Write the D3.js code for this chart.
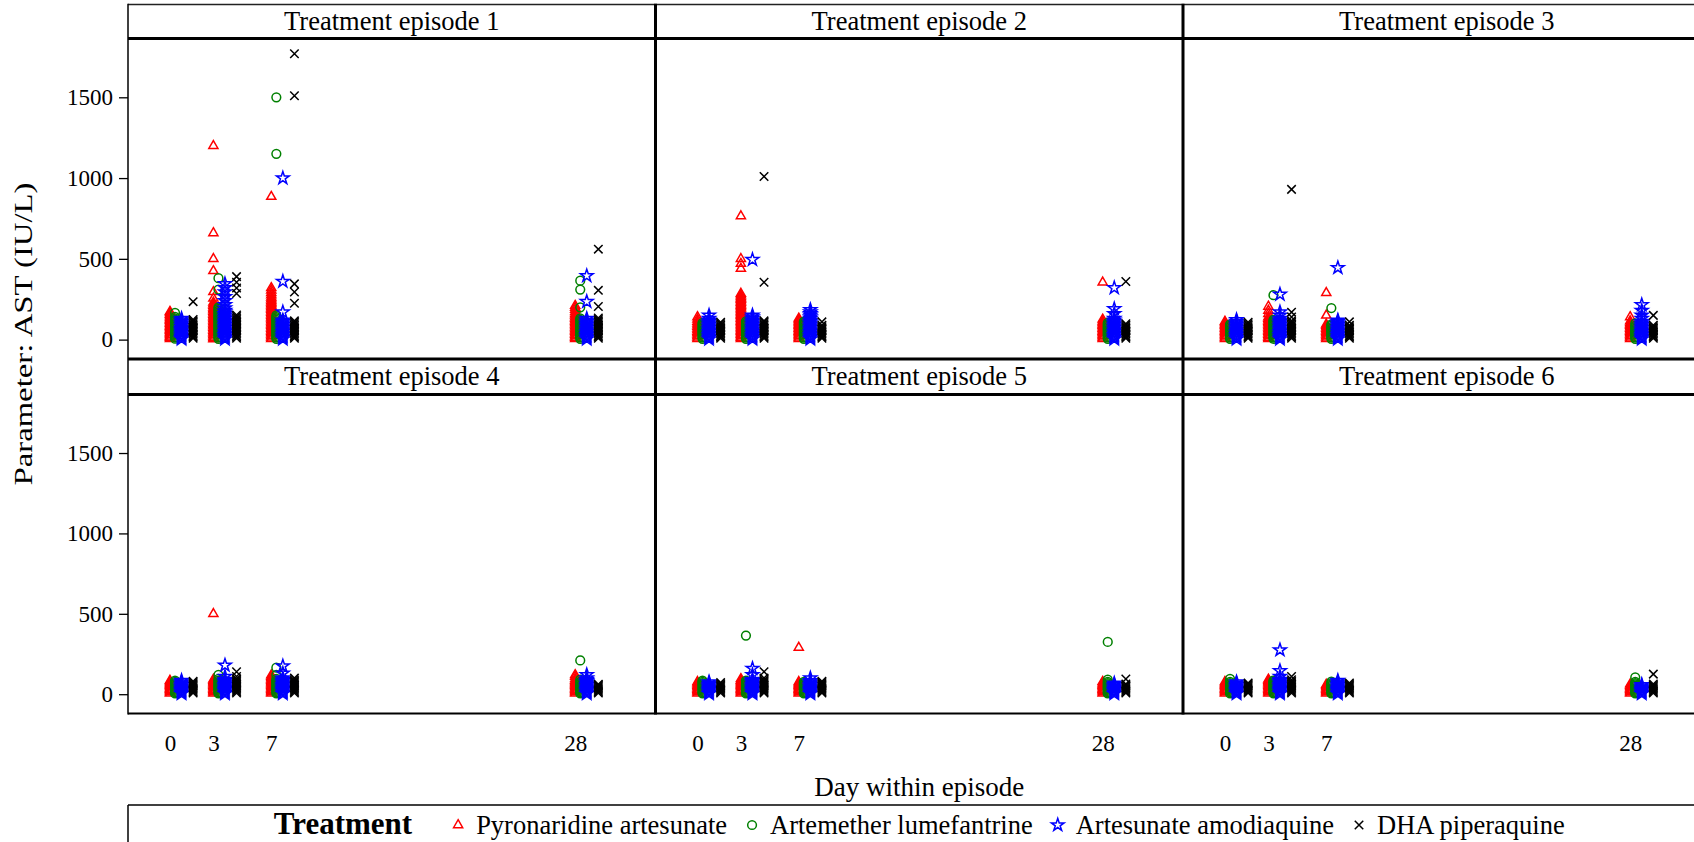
<!DOCTYPE html>
<html>
<head>
<meta charset="utf-8">
<title>AST by day within episode</title>
<script src="https://d3js.org/d3.v7.min.js"></script>
<style>
  body { margin: 0; background: #fff; overflow: hidden; }
  svg text { font-family: "Liberation Serif", "DejaVu Serif", serif; fill: #000; }
</style>
</head>
<body>
<div id="chart"></div>
<script>
// ---- data ----
const episodes = [1, 2, 3, 4, 5, 6];
const dayTicks = [0, 3, 7, 28];
const yTicks = [0, 500, 1000, 1500];
const treatments = ["Pyronaridine artesunate", "Artemether lumefantrine", "Artesunate amodiaquine", "DHA piperaquine"];

// [episode, day, AST values]
const pyronaridine = [
  [1, 0, [4,12,20,30,38,47,55,64,72,81,90,99,108,117,126,135,145,155,165,173]],
  [1, 3, [3,11,20,29,38,47,56,65,74,83,92,101,110,119,128,137,146,155,164,173,182,191,200,210,220,230,255,295,425,500,660,1200]],
  [1, 7, [5,14,23,32,41,50,59,68,77,86,95,104,113,122,131,140,149,158,167,176,185,194,203,212,221,230,240,250,262,275,290,305,320,885]],
  [1, 28, [4,13,22,31,40,49,58,67,76,85,94,103,112,121,130,140,150,160,172,185,198,210]],
  [2, 0, [5,14,23,32,41,50,60,70,80,90,100,112,125,140]],
  [2, 3, [4,13,22,31,40,49,58,67,76,85,94,103,112,121,130,139,148,157,166,175,184,193,202,211,220,229,238,247,256,265,275,285,440,470,500,765]],
  [2, 7, [5,14,23,32,41,50,59,68,77,86,95,104,113,122,131]],
  [2, 28, [5,14,23,32,41,50,59,68,77,86,95,104,113,125,355]],
  [3, 0, [5,14,23,32,41,50,59,68,77,86,95,104,112]],
  [3, 3, [4,13,22,31,40,49,58,67,76,85,94,103,112,121,130,140,160,180,205]],
  [3, 7, [5,14,23,32,41,50,59,68,77,86,95,150,290]],
  [3, 28, [5,14,23,32,41,50,59,68,77,86,95,104,115,140]],
  [4, 0, [5,13,21,29,37,45,53,61,69,77,85]],
  [4, 3, [5,13,21,29,37,45,53,61,69,77,85,92,500]],
  [4, 7, [5,13,21,29,37,45,53,61,69,77,85,93,101,110,118]],
  [4, 28, [5,13,21,29,37,45,53,61,69,77,85,95,110,120]],
  [5, 0, [5,13,21,29,37,45,53,61,69,77]],
  [5, 3, [5,13,21,29,37,45,53,61,69,77,85,95]],
  [5, 7, [5,13,21,29,37,45,53,61,69,77,290]],
  [5, 28, [5,13,21,29,37,45,53,61,69,78]],
  [6, 0, [5,13,21,29,37,45,53,61,69,77]],
  [6, 3, [5,13,21,29,37,45,53,61,69,77,85,92]],
  [6, 7, [5,13,21,29,37,45,53,60]],
  [6, 28, [5,13,21,29,37,45,53,62]]
];

const artemether = [
  [1, 0, [6,15,24,33,42,51,60,69,78,87,96,105,114,123,132,141,165]],
  [1, 3, [5,14,23,32,41,50,59,68,77,86,95,104,113,122,131,140,150,160,170,180,190,200,310,380]],
  [1, 7, [5,14,23,32,41,50,59,68,77,86,95,104,113,122,131,140,150,1150,1500]],
  [1, 28, [5,14,23,32,41,50,59,68,77,86,95,104,113,122,131,200,310,365]],
  [2, 0, [5,14,23,32,41,50,59,68,77,86,95,104]],
  [2, 3, [5,14,23,32,41,50,59,68,77,86,95,104,113]],
  [2, 7, [5,14,23,32,41,50,59,68,77,86,95,104,112]],
  [2, 28, [5,14,23,32,41,50,59,68,77,86,95,104]],
  [3, 0, [5,14,23,32,41,50,59,68,77,86,94]],
  [3, 3, [5,14,23,32,41,50,59,68,77,86,95,104,113,122,275]],
  [3, 7, [5,14,23,32,41,50,59,68,77,86,95,195]],
  [3, 28, [5,14,23,32,41,50,59,68,77,86,100]],
  [4, 0, [5,13,21,29,37,45,53,61,69,77,85]],
  [4, 3, [5,13,21,29,37,45,53,61,69,77,85,95,120]],
  [4, 7, [5,13,21,29,37,45,53,61,69,77,85,95,120,165]],
  [4, 28, [5,13,21,29,37,45,53,61,69,77,90,210]],
  [5, 0, [5,13,21,29,37,45,53,61,69,77,85]],
  [5, 3, [5,13,21,29,37,45,53,61,69,77,85,365]],
  [5, 7, [5,13,21,29,37,45,53,61,69,77]],
  [5, 28, [5,13,21,29,37,45,53,61,69,77,90,325]],
  [6, 0, [5,13,21,29,37,45,53,61,69,77,95]],
  [6, 3, [5,13,21,29,37,45,53,61,69,77,85]],
  [6, 7, [5,13,21,29,37,45,53,61,69,78]],
  [6, 28, [5,13,21,29,37,45,53,61,69,77,105]]
];

const artesunate = [
  [1, 0, [3,11,19,27,35,43,51,59,67,75,85,94,103,112,121,130]],
  [1, 3, [3,12,21,30,39,48,57,66,75,84,93,102,111,120,130,140,150,160,170,180,195,215,240,265,295,320,345]],
  [1, 7, [3,12,21,30,39,48,57,66,75,84,93,102,111,120,170,360,1000]],
  [1, 28, [3,12,21,30,39,48,57,66,75,84,93,102,111,120,130,235,395]],
  [2, 0, [3,12,21,30,39,48,57,66,75,84,93,102,111,120,130,150]],
  [2, 3, [3,12,21,30,39,48,57,66,75,84,93,102,111,120,130,140,150,495]],
  [2, 7, [3,12,21,30,39,48,57,66,75,84,93,102,111,120,130,140,150,160,170,185]],
  [2, 28, [3,12,21,30,39,48,57,66,75,84,93,102,111,120,130,160,190,320]],
  [3, 0, [3,12,21,30,39,48,57,66,75,84,93,102,112,122]],
  [3, 3, [3,12,21,30,39,48,57,66,75,84,93,102,111,120,130,150,170,280]],
  [3, 7, [3,12,21,30,39,48,57,66,75,84,93,102,111,120,445]],
  [3, 28, [3,12,21,30,39,48,57,66,75,84,93,102,111,130,150,180,215]],
  [4, 0, [3,11,19,27,35,43,51,59,67,75,85]],
  [4, 3, [3,11,19,27,35,43,51,59,67,75,83,91,110,180]],
  [4, 7, [3,11,19,27,35,43,51,59,67,75,83,91,100,130,175]],
  [4, 28, [3,11,19,27,35,43,51,59,67,75,83,91,100,120]],
  [5, 0, [3,11,19,27,35,43,51,59,67,75]],
  [5, 3, [3,11,19,27,35,43,51,59,67,75,83,91,120,160]],
  [5, 7, [3,11,19,27,35,43,51,59,67,75,83,100]],
  [5, 28, [3,11,19,27,35,43,51,59,67]],
  [6, 0, [3,11,19,27,35,43,51,59,67,75]],
  [6, 3, [3,11,19,27,35,43,51,59,67,75,83,91,110,145,275]],
  [6, 7, [3,11,19,27,35,43,51,59,67,75,85]],
  [6, 28, [3,11,19,27,35,43,51,59]]
];

const dha = [
  [1, 0, [8,17,26,35,44,53,62,71,80,89,98,107,116,125,235]],
  [1, 3, [8,17,26,35,44,53,62,71,80,89,98,107,116,125,134,143,152,285,320,355,390]],
  [1, 7, [8,17,26,35,44,53,62,71,80,89,98,107,116,225,295,345,1510,1770]],
  [1, 28, [8,17,26,35,44,53,62,71,80,89,98,107,116,125,134,205,305,560]],
  [2, 0, [8,17,26,35,44,53,62,71,80,89,98,107]],
  [2, 3, [8,17,26,35,44,53,62,71,80,89,98,107,116,355,1010]],
  [2, 7, [8,17,26,35,44,53,62,71,80,89,110]],
  [2, 28, [8,17,26,35,44,53,62,71,80,89,98,360]],
  [3, 0, [8,17,26,35,44,53,62,71,80,89,98,107]],
  [3, 3, [8,17,26,35,44,53,62,71,80,89,98,107,116,140,170,930]],
  [3, 7, [8,17,26,35,44,53,62,71,80,89,110]],
  [3, 28, [8,17,26,35,44,53,62,71,80,89,150]],
  [4, 0, [8,16,24,32,40,48,56,64,72,80]],
  [4, 3, [8,16,24,32,40,48,56,64,72,80,88,96,110,140]],
  [4, 7, [8,16,24,32,40,48,56,64,72,80,88,100]],
  [4, 28, [8,16,24,32,40,48,56,62]],
  [5, 0, [8,16,24,32,40,48,56,64,72]],
  [5, 3, [8,16,24,32,40,48,56,64,72,80,88,100,140]],
  [5, 7, [8,16,24,32,40,48,56,64,72,80]],
  [5, 28, [8,16,24,32,40,48,56,64,95]],
  [6, 0, [8,16,24,32,40,48,56,64,70]],
  [6, 3, [8,16,24,32,40,48,56,64,72,80,90,110]],
  [6, 7, [8,16,24,32,40,48,56,64,70]],
  [6, 28, [8,16,24,32,40,48,56,64,125]]
];

const seriesData = [pyronaridine, artemether, artesunate, dha];
const colors = ["#ff0000", "#008000", "#0000ff", "#000000"];
const dayShift = [0, 0.35, 0.8, 1.6];   // cluster offset of each treatment, in days

// ---- layout ----
const W = 1694, H = 842;
const FONT = "Liberation Serif, DejaVu Serif, serif";
const colLeft = [128, 655.5, 1183];
const colW = 527.5;
const rowHeadTop = [4.5, 359];
const rowTop = [38.5, 394.5];
const rowBottom = [359, 713.5];

const svg = d3.select("#chart").append("svg")
    .attr("width", W)
    .attr("height", H);

const timesSymbol = {
  draw(ctx, size) {
    const r = Math.sqrt(size) / 2;
    ctx.moveTo(-r, -r); ctx.lineTo(r, r);
    ctx.moveTo(-r, r); ctx.lineTo(r, -r);
  }
};
const symbols = [
  d3.symbol().type(d3.symbolTriangle).size(36),
  d3.symbol().type(d3.symbolCircle).size(60),
  d3.symbol().type(d3.symbolStar).size(50),
  d3.symbol().type(timesSymbol).size(72)
];
const strokeW = [1.5, 1.5, 1.5, 1.5];

// ---- panels ----
episodes.forEach((ep, i) => {
  const c = i % 3, r = Math.floor(i / 3);
  const x = d3.scaleLinear().domain([-2.9, 33.55]).range([colLeft[c], colLeft[c] + colW]);
  const y = d3.scaleLinear().domain([-120, 1864]).range([rowBottom[r], rowTop[r]]);

  const g = svg.append("g").attr("class", "panel");

  // points
  seriesData.forEach((series, s) => {
    const pts = [];
    series.filter(d => d[0] === ep).forEach(d => {
      d[2].forEach(v => pts.push({day: d[1], v: v}));
    });
    g.selectAll(null)
      .data(pts)
      .enter().append("path")
      .attr("d", symbols[s])
      .attr("transform", d => `translate(${x(d.day + dayShift[s])},${y(d.v)})`)
      .attr("fill", "none")
      .attr("stroke", colors[s])
      .attr("stroke-width", strokeW[s]);
  });

  // header text
  svg.append("text")
    .attr("x", colLeft[c] + colW / 2)
    .attr("y", (rowHeadTop[r] + rowTop[r]) / 2 + 8.5)
    .attr("text-anchor", "middle")
    .style("font-size", "26.5px")
    .text("Treatment episode " + ep);

  // x axis tick labels (bottom row only)
  if (r === 1) {
    const ax = d3.axisBottom(x).tickValues(dayTicks).tickSize(0).tickPadding(21);
    const axg = svg.append("g")
      .attr("transform", `translate(0,${rowBottom[r]})`)
      .call(ax)
      .attr("font-family", FONT)
      .attr("font-size", 23);
    axg.select(".domain").remove();
    axg.selectAll("text").attr("fill", "#000");
  }

  // y axis (left column only)
  if (c === 0) {
    const ay = d3.axisLeft(y).tickValues(yTicks).tickFormat(d3.format("d")).tickSize(9).tickPadding(6);
    const ayg = svg.append("g")
      .attr("transform", `translate(${colLeft[0]},0)`)
      .call(ay)
      .attr("font-family", FONT)
      .attr("font-size", 23);
    ayg.select(".domain").remove();
    ayg.selectAll("line").attr("stroke", "#000").attr("stroke-width", 1.3);
    ayg.selectAll("text").attr("fill", "#000");
  }
});

// ---- frame lines ----
const xEnd = colLeft[2] + colW;
const frame = svg.append("g").attr("stroke", "#000").attr("fill", "none");
frame.append("line").attr("x1", colLeft[0]).attr("x2", W).attr("y1", rowHeadTop[0]).attr("y2", rowHeadTop[0]).attr("stroke-width", 1.5).attr("stroke", "#222");
frame.append("line").attr("x1", colLeft[0]).attr("x2", W).attr("y1", rowTop[0]).attr("y2", rowTop[0]).attr("stroke-width", 3);
frame.append("line").attr("x1", colLeft[0]).attr("x2", W).attr("y1", rowBottom[0]).attr("y2", rowBottom[0]).attr("stroke-width", 3);
frame.append("line").attr("x1", colLeft[0]).attr("x2", W).attr("y1", rowTop[1]).attr("y2", rowTop[1]).attr("stroke-width", 3);
frame.append("line").attr("x1", colLeft[0]).attr("x2", W).attr("y1", rowBottom[1]).attr("y2", rowBottom[1]).attr("stroke-width", 2);
frame.append("line").attr("x1", colLeft[0]).attr("x2", colLeft[0]).attr("y1", rowHeadTop[0] - 0.75).attr("y2", rowBottom[1] + 1).attr("stroke-width", 1.5);
[colLeft[1], colLeft[2]].forEach(cx => {
  frame.append("line").attr("x1", cx).attr("x2", cx).attr("y1", rowHeadTop[0] - 0.75).attr("y2", rowBottom[1] + 1).attr("stroke-width", 3);
});

// ---- axis titles ----
svg.append("text")
  .attr("transform", `translate(32,334) rotate(-90)`)
  .attr("text-anchor", "middle")
  .attr("textLength", 303)
  .attr("lengthAdjust", "spacingAndGlyphs")
  .style("font-size", "26px")
  .text("Parameter: AST (IU/L)");

svg.append("text")
  .attr("x", (colLeft[0] + xEnd) / 2)
  .attr("y", 796)
  .attr("text-anchor", "middle")
  .style("font-size", "27px")
  .text("Day within episode");

// ---- legend ----
const legTop = 805;
svg.append("line").attr("x1", colLeft[0]).attr("x2", W).attr("y1", legTop).attr("y2", legTop).attr("stroke", "#000").attr("stroke-width", 1.5);
svg.append("line").attr("x1", colLeft[0]).attr("x2", colLeft[0]).attr("y1", legTop).attr("y2", H).attr("stroke", "#000").attr("stroke-width", 1.5);

const leg = svg.append("g");
const legBase = 834;
const title = leg.append("text")
  .attr("x", 0).attr("y", legBase)
  .style("font-size", "31px").style("font-weight", "bold")
  .text("Treatment");
let cursor = title.node().getComputedTextLength() + 40;
treatments.forEach((t, s) => {
  leg.append("path")
    .attr("d", symbols[s])
    .attr("transform", `translate(${cursor + 6},${legBase - 9})`)
    .attr("fill", "none")
    .attr("stroke", colors[s])
    .attr("stroke-width", strokeW[s]);
  const tx = leg.append("text")
    .attr("x", cursor + 24).attr("y", legBase)
    .style("font-size", "26.5px")
    .text(t);
  cursor += 24 + tx.node().getComputedTextLength() + 19;
});
const legW = cursor - 19;
leg.attr("transform", `translate(${(colLeft[0] + xEnd) / 2 - legW / 2},0)`);
</script>
</body>
</html>
